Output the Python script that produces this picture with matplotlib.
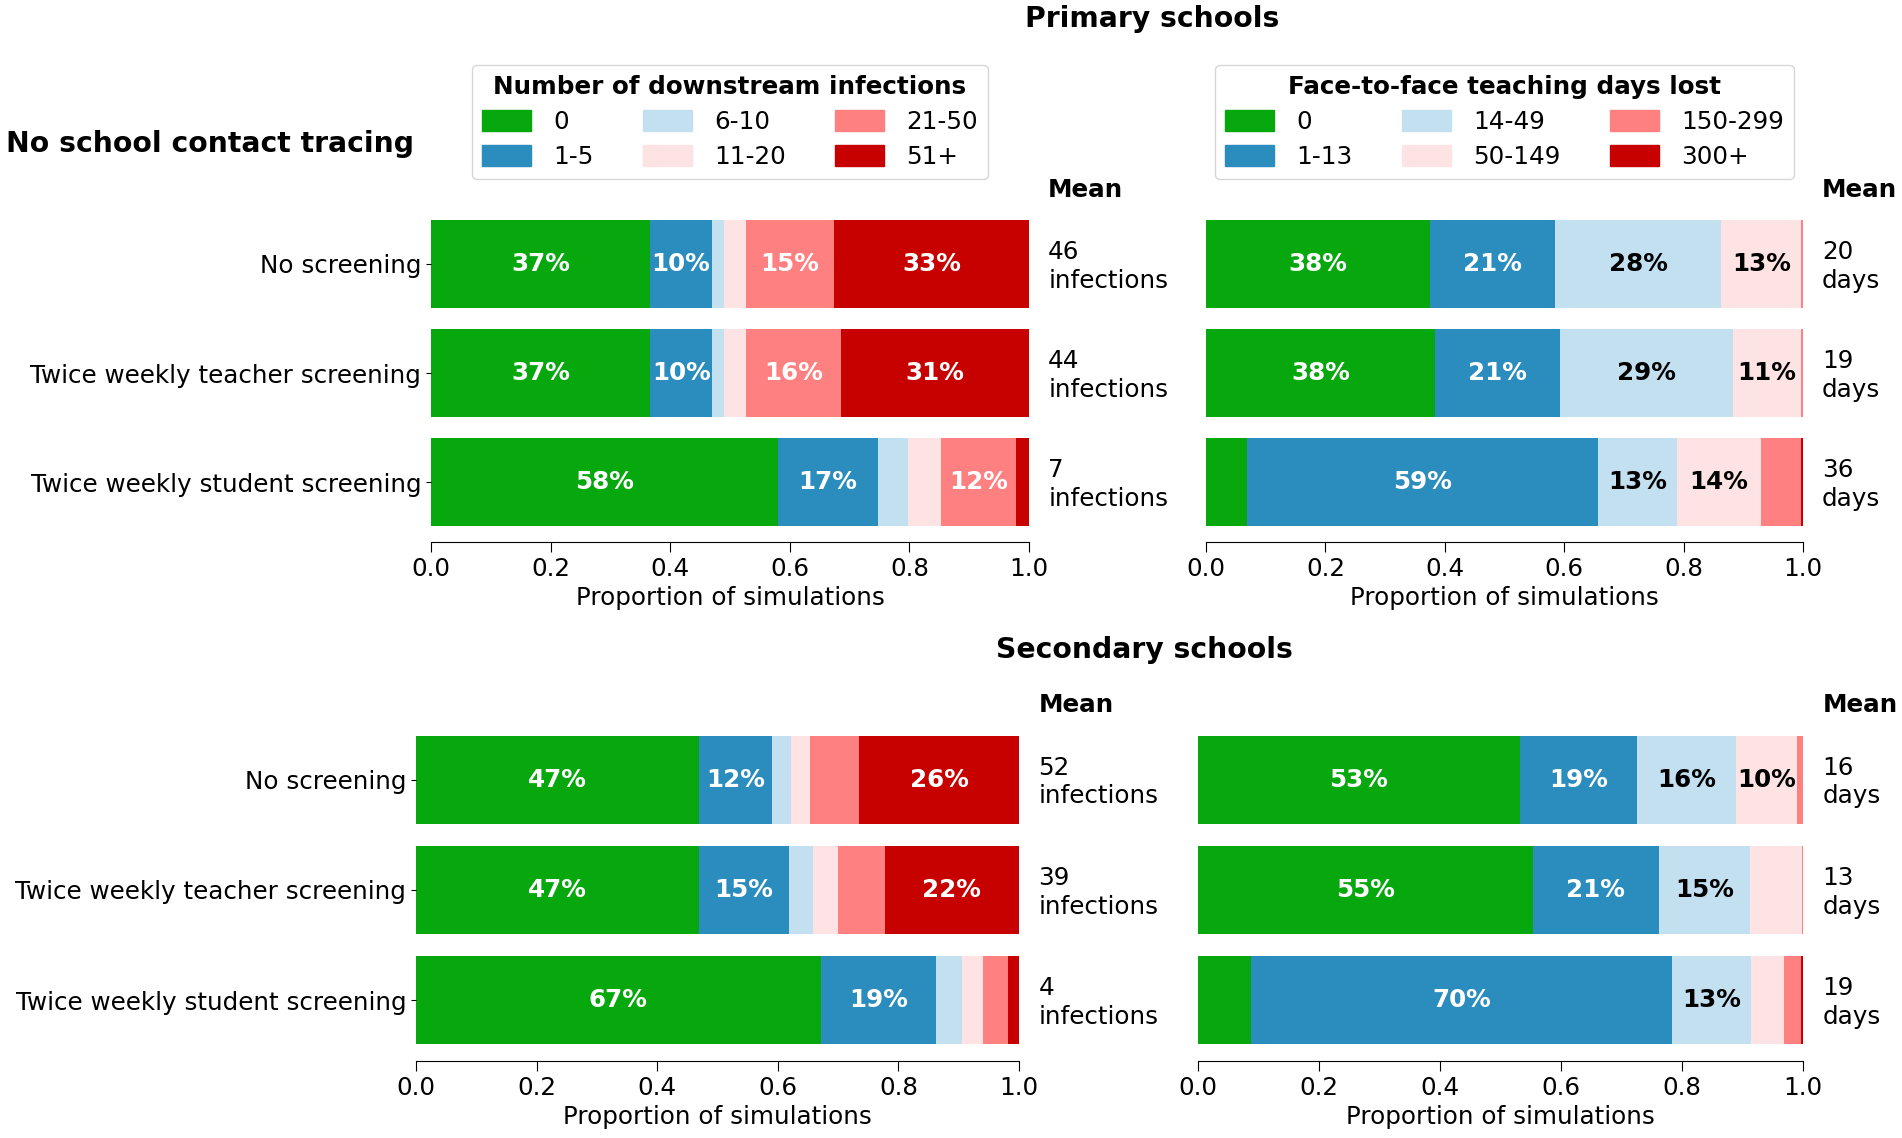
import matplotlib
matplotlib.use('Agg')
import matplotlib.pyplot as plt
from matplotlib.patches import Patch
import numpy as np

FS = 17.7
plt.rcParams['font.family'] = 'DejaVu Sans'
plt.rcParams['font.size'] = FS

scenarios = ['No screening', 'Twice weekly teacher screening',
             'Twice weekly student screening']

inf_cats = ['0', '1-5', '6-10', '11-20', '21-50', '51+']
days_cats = ['0', '1-13', '14-49', '50-149', '150-299', '300+']

colors = ['#06a80d', '#2b8cbe', '#c2e0f0', '#fde3e3', '#ff8080', '#c70000']
text_cols = ['white', 'white', 'black', 'black', 'white', 'white']

# proportions per scenario (rows) and category (columns)
prim_inf = [[0.366, 0.104, 0.020, 0.037, 0.147, 0.326],
            [0.367, 0.103, 0.020, 0.037, 0.159, 0.314],
            [0.580, 0.167, 0.051, 0.055, 0.125, 0.022]]
prim_days = [[0.376, 0.209, 0.278, 0.134, 0.003, 0.000],
             [0.384, 0.209, 0.289, 0.114, 0.004, 0.000],
             [0.069, 0.587, 0.133, 0.140, 0.067, 0.004]]
sec_inf = [[0.470, 0.121, 0.031, 0.032, 0.081, 0.265],
           [0.470, 0.148, 0.040, 0.042, 0.077, 0.223],
           [0.671, 0.192, 0.042, 0.036, 0.041, 0.018]]
sec_days = [[0.532, 0.193, 0.164, 0.101, 0.010, 0.000],
            [0.553, 0.209, 0.151, 0.085, 0.002, 0.000],
            [0.088, 0.696, 0.130, 0.055, 0.028, 0.003]]

prim_inf_mean = [46, 44, 7]
prim_days_mean = [20, 19, 36]
sec_inf_mean = [52, 39, 4]
sec_days_mean = [16, 13, 19]


def stacked(ax, data, means, unit, ylabels=True):
    data = np.array(data)
    y = np.arange(len(scenarios))
    left = np.zeros(len(scenarios))
    for j in range(data.shape[1]):
        vals = data[:, j]
        ax.barh(y, vals, left=left, height=0.8, color=colors[j])
        for i in range(len(y)):
            if vals[i] >= 0.095:
                ax.text(left[i] + vals[i]/2, y[i], "%d%%" % round(vals[i]*100),
                        ha='center', va='center', color=text_cols[j],
                        fontweight='bold', fontsize=FS)
        left += vals
    ax.set_xlim(0, 1)
    ax.set_ylim(2.55, -0.55)
    ax.set_xticks(np.arange(0, 1.01, 0.2))
    ax.set_xlabel('Proportion of simulations', labelpad=4)
    for s in ['top', 'right', 'left']:
        ax.spines[s].set_visible(False)
    if ylabels:
        ax.set_yticks(y)
        ax.set_yticklabels(scenarios)
    else:
        ax.set_yticks([])
    ax.tick_params(axis='x', length=7)
    tr = ax.get_yaxis_transform()
    for i in range(len(y)):
        ax.text(1.032, y[i] + 0.02, "%d\n%s" % (means[i], unit), transform=tr,
                ha='left', va='center', fontsize=FS, linespacing=1.25)
    ax.text(1.032, -0.68, 'Mean', transform=tr, ha='left', va='center',
            fontweight='bold', fontsize=FS)


fig = plt.figure(figsize=(19.02, 11.38), dpi=100)
W, H = 1902., 1138.
ax1 = fig.add_axes([431/W, 1-542/H, 598/W, 338/H])
ax2 = fig.add_axes([1206/W, 1-542/H, 597/W, 338/H])
ax3 = fig.add_axes([416/W, 1-1061/H, 603/W, 342/H])
ax4 = fig.add_axes([1198/W, 1-1061/H, 605/W, 342/H])

stacked(ax1, prim_inf, prim_inf_mean, 'infections')
stacked(ax2, prim_days, prim_days_mean, 'days', ylabels=False)
stacked(ax3, sec_inf, sec_inf_mean, 'infections')
stacked(ax4, sec_days, sec_days_mean, 'days', ylabels=False)

for ax, cats, title in [(ax1, inf_cats, 'Number of downstream infections'),
                        (ax2, days_cats, 'Face-to-face teaching days lost')]:
    handles = [Patch(color=colors[k], label=cats[k]) for k in range(6)]
    ax.legend(handles=handles, ncol=3, loc='lower center',
              bbox_to_anchor=(0.5, 1.075), borderaxespad=0,
              title=title, title_fontproperties={'weight': 'bold', 'size': FS},
              handlelength=2.0, handleheight=0.95, handletextpad=0.9,
              columnspacing=2.0, labelspacing=0.45, fontsize=FS)

fig.text(1152/W, 1-19/H, 'Primary schools', ha='center', va='center',
         fontweight='bold', fontsize=20.3)
fig.text(1144/W, 1-650/H, 'Secondary schools', ha='center', va='center',
         fontweight='bold', fontsize=20.3)
fig.text(6/W, 1-144/H, 'No school contact tracing', ha='left', va='center',
         fontweight='bold', fontsize=20.3)

fig.savefig('out.png', dpi=100)
